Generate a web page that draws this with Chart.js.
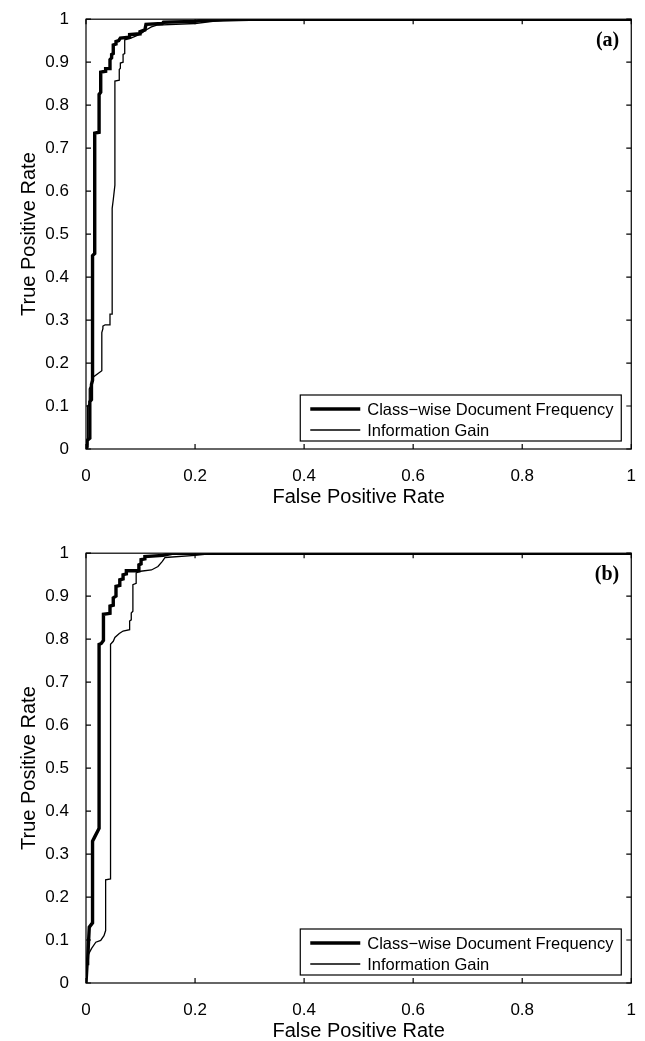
<!DOCTYPE html>
<html>
<head>
<meta charset="utf-8">
<script src="https://cdn.jsdelivr.net/npm/chart.js@4.4.0/dist/chart.umd.min.js"></script>
<style>
  html, body { margin: 0; padding: 0; background: #fff; }
  canvas { display: block; }
</style>
</head>
<body>
<canvas id="rocA" width="645" height="534"></canvas>
<canvas id="rocB" width="645" height="507"></canvas>
<script>
// panel (a): Class-wise Document Frequency
const fprCwdfA = [0, 0.002, 0.002, 0.007, 0.007, 0.010, 0.010, 0.012, 0.012, 0.016, 0.016, 0.024, 0.024, 0.027, 0.027, 0.036, 0.036, 0.044, 0.044, 0.047, 0.047, 0.050, 0.050, 0.055, 0.055, 0.060, 0.063, 0.080, 0.080, 0.099, 0.099, 0.108, 0.110, 0.140, 0.142, 0.200, 0.210, 0.280, 0.300, 1];
const tprCwdfA = [0, 0.005, 0.020, 0.025, 0.110, 0.115, 0.150, 0.160, 0.450, 0.455, 0.735, 0.737, 0.825, 0.830, 0.877, 0.879, 0.885, 0.885, 0.906, 0.910, 0.918, 0.920, 0.940, 0.942, 0.948, 0.950, 0.956, 0.958, 0.964, 0.966, 0.971, 0.975, 0.988, 0.990, 0.993, 0.995, 0.997, 0.999, 1, 1];
// panel (a): Information Gain
const fprIgA = [0, 0.002, 0.003, 0.006, 0.006, 0.010, 0.013, 0.029, 0.029, 0.031, 0.031, 0.035, 0.044, 0.044, 0.048, 0.048, 0.050, 0.053, 0.053, 0.061, 0.061, 0.063, 0.063, 0.068, 0.068, 0.071, 0.071, 0.080, 0.090, 0.100, 0.110, 0.120, 0.130, 0.200, 0.240, 0.280, 1];
const tprIgA = [0, 0.010, 0.100, 0.105, 0.140, 0.150, 0.167, 0.182, 0.271, 0.280, 0.286, 0.289, 0.289, 0.314, 0.314, 0.560, 0.580, 0.614, 0.856, 0.858, 0.883, 0.886, 0.898, 0.900, 0.918, 0.920, 0.952, 0.955, 0.960, 0.966, 0.975, 0.982, 0.986, 0.990, 0.996, 1, 1];

// panel (b): Class-wise Document Frequency
const fprCwdfB = [0, 0.002, 0.003, 0.006, 0.012, 0.012, 0.016, 0.022, 0.024, 0.024, 0.028, 0.032, 0.032, 0.044, 0.044, 0.050, 0.050, 0.055, 0.055, 0.062, 0.062, 0.068, 0.068, 0.074, 0.074, 0.097, 0.097, 0.101, 0.101, 0.108, 0.108, 0.141, 0.160, 1];
const tprCwdfB = [0, 0.045, 0.053, 0.130, 0.140, 0.330, 0.340, 0.355, 0.360, 0.788, 0.790, 0.797, 0.858, 0.860, 0.877, 0.879, 0.896, 0.900, 0.923, 0.925, 0.938, 0.940, 0.950, 0.952, 0.959, 0.959, 0.973, 0.975, 0.985, 0.987, 0.992, 0.995, 1, 1];
// panel (b): Information Gain
const fprIgB = [0, 0.001, 0.004, 0.010, 0.018, 0.027, 0.033, 0.036, 0.036, 0.045, 0.045, 0.050, 0.053, 0.061, 0.068, 0.080, 0.080, 0.083, 0.083, 0.086, 0.086, 0.092, 0.092, 0.100, 0.120, 0.132, 0.140, 0.145, 0.200, 0.240, 1];
const tprIgB = [0, 0.050, 0.065, 0.080, 0.095, 0.099, 0.110, 0.122, 0.240, 0.242, 0.788, 0.795, 0.804, 0.813, 0.819, 0.822, 0.842, 0.845, 0.861, 0.865, 0.927, 0.930, 0.954, 0.958, 0.961, 0.969, 0.981, 0.990, 0.995, 1, 1];

const methodNames = ['Class\u2212wise Document Frequency', 'Information Gain'];
const xTickValues = [0, 0.2, 0.4, 0.6, 0.8, 1];
const yTickValues = [0, 0.1, 0.2, 0.3, 0.4, 0.5, 0.6, 0.7, 0.8, 0.9, 1];

Chart.defaults.font.family = '"Liberation Sans", Arial, sans-serif';
Chart.defaults.color = '#000';

const toPoints = (xs, ys) => xs.map((x, i) => ({ x: x, y: ys[i] }));

// axes box with inward tick marks on all four sides
const axesBox = {
  id: 'axesBox',
  afterDraw(chart) {
    const { ctx, chartArea: a, scales: { x, y } } = chart;
    ctx.save();
    ctx.strokeStyle = '#000';
    ctx.lineWidth = 1.2;
    ctx.strokeRect(a.left, a.top, a.right - a.left, a.bottom - a.top);
    ctx.beginPath();
    x.ticks.forEach(t => {
      const px = x.getPixelForValue(t.value);
      ctx.moveTo(px, a.bottom); ctx.lineTo(px, a.bottom - 5);
      ctx.moveTo(px, a.top); ctx.lineTo(px, a.top + 5);
    });
    y.ticks.forEach(t => {
      const py = y.getPixelForValue(t.value);
      ctx.moveTo(a.left, py); ctx.lineTo(a.left + 5, py);
      ctx.moveTo(a.right, py); ctx.lineTo(a.right - 5, py);
    });
    ctx.stroke();
    ctx.restore();
  }
};

// boxed legend in the lower right corner plus the panel letter
const boxLegend = {
  id: 'boxLegend',
  afterDraw(chart, args, opts) {
    const { ctx, chartArea: a } = chart;
    const w = 321, h = 46;
    const right = a.right - 10, bottom = a.bottom - 8;
    const left = right - w, top = bottom - h;
    ctx.save();
    ctx.fillStyle = '#fff';
    ctx.fillRect(left, top, w, h);
    ctx.strokeStyle = '#000';
    ctx.lineWidth = 1.2;
    ctx.strokeRect(left, top, w, h);
    ctx.font = '16.5px "Liberation Sans", Arial, sans-serif';
    ctx.textBaseline = 'middle';
    ctx.fillStyle = '#000';
    chart.data.datasets.forEach((ds, i) => {
      const yy = top + 14 + i * 21;
      ctx.beginPath();
      ctx.lineWidth = ds.borderWidth;
      ctx.moveTo(left + 10, yy);
      ctx.lineTo(left + 60, yy);
      ctx.stroke();
      ctx.fillText(ds.label, left + 67, yy + 1);
    });
    ctx.font = 'bold 20px "Liberation Serif", "Times New Roman", serif';
    ctx.textAlign = 'right';
    ctx.fillText(opts.tag, a.right - 12, a.top + 22);
    ctx.restore();
  }
};

function makeRoc(id, tag, bottomPad, cwdf, ig) {
  return new Chart(document.getElementById(id), {
    type: 'scatter',
    data: {
      datasets: [
        { label: methodNames[0], data: cwdf, showLine: true, borderColor: '#000', borderWidth: 3.4, pointRadius: 0 },
        { label: methodNames[1], data: ig, showLine: true, borderColor: '#000', borderWidth: 1.3, pointRadius: 0 }
      ]
    },
    options: {
      responsive: false,
      animation: false,
      devicePixelRatio: 1,
      layout: { padding: { top: 16, right: 11, left: 0, bottom: bottomPad } },
      plugins: {
        legend: { display: false },
        tooltip: { enabled: false },
        boxLegend: { tag: tag }
      },
      scales: {
        x: {
          type: 'linear', min: 0, max: 1,
          afterBuildTicks: s => { s.ticks = xTickValues.map(v => ({ value: v })); },
          afterFit: s => { s.height = 58; },
          grid: { display: false },
          border: { display: false },
          ticks: { padding: 9, font: { size: 17 }, callback: v => String(+v.toFixed(1)) },
          title: { display: true, text: 'False Positive Rate', font: { size: 20, lineHeight: 1 }, padding: { top: 0, bottom: 0 } }
        },
        y: {
          type: 'linear', min: 0, max: 1,
          afterBuildTicks: s => { s.ticks = yTickValues.map(v => ({ value: v })); },
          afterFit: s => { s.width = 86; },
          grid: { display: false },
          border: { display: false },
          ticks: { padding: 9, font: { size: 17 }, callback: v => String(+v.toFixed(1)) },
          title: { display: true, text: 'True Positive Rate', font: { size: 20, lineHeight: 1 }, padding: { top: 19, bottom: 0 } }
        }
      }
    },
    plugins: [axesBox, boxLegend]
  });
}

makeRoc('rocA', '(a)', 27, toPoints(fprCwdfA, tprCwdfA), toPoints(fprIgA, tprIgA));
makeRoc('rocB', '(b)', 0, toPoints(fprCwdfB, tprCwdfB), toPoints(fprIgB, tprIgB));
</script>
</body>
</html>
